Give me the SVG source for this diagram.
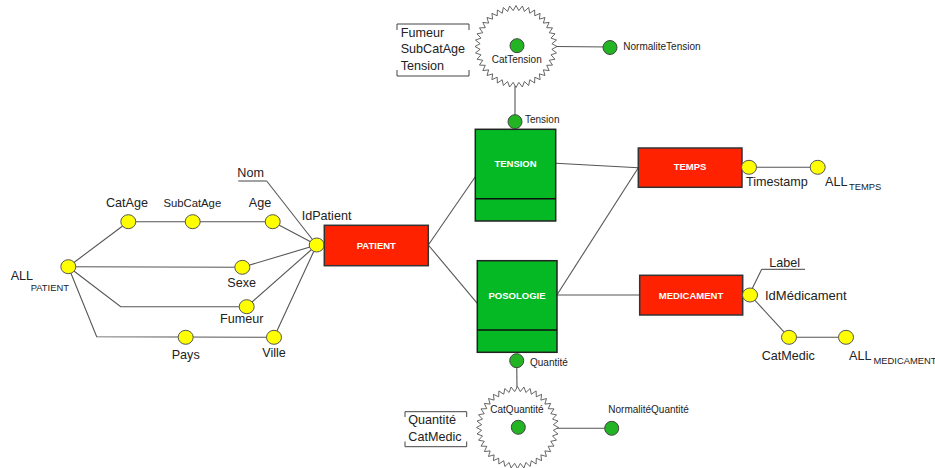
<svg xmlns="http://www.w3.org/2000/svg" xmlns:xlink="http://www.w3.org/1999/xlink" width="935" height="468" viewBox="0 0 935 468">
<style>
text{font-family:"Liberation Sans",Arial,sans-serif;fill:#222}
.l{font-size:12.6px}
.s{font-size:10px}
.sub{font-size:9.4px}
.b{font-size:9.5px;font-weight:bold;fill:#fff;text-anchor:middle}
.m{text-anchor:middle}
.y{fill:#ffff00;stroke:#555;stroke-width:1}
.g{fill:#22b422;stroke:#444;stroke-width:1}
.red{fill:#ff2200;stroke:#333;stroke-width:1.5}
.grn{fill:#05b925;stroke:#222;stroke-width:1.5}
.c line,.c polyline{stroke:#555;stroke-width:1.1;fill:none}
.br{stroke:#444;stroke-width:1;fill:none}
.gear{fill:#fff;stroke:#555;stroke-width:0.9}
</style>
<defs>
<polygon id="gearShape" class="gear" points="41,0 35.89,2.82 40.5,6.41 35.01,8.4 38.99,12.67 33.26,13.78 36.53,18.61 30.7,18.81 33.17,24.1 27.37,23.38 28.99,28.99 23.38,27.37 24.1,33.17 18.81,30.7 18.61,36.53 13.78,33.26 12.67,38.99 8.4,35.01 6.41,40.5 2.82,35.89 0,41 -2.82,35.89 -6.41,40.5 -8.4,35.01 -12.67,38.99 -13.78,33.26 -18.61,36.53 -18.81,30.7 -24.1,33.17 -23.38,27.37 -28.99,28.99 -27.37,23.38 -33.17,24.1 -30.7,18.81 -36.53,18.61 -33.26,13.78 -38.99,12.67 -35.01,8.4 -40.5,6.41 -35.89,2.82 -41,0 -35.89,-2.82 -40.5,-6.41 -35.01,-8.4 -38.99,-12.67 -33.26,-13.78 -36.53,-18.61 -30.7,-18.81 -33.17,-24.1 -27.37,-23.38 -28.99,-28.99 -23.38,-27.37 -24.1,-33.17 -18.81,-30.7 -18.61,-36.53 -13.78,-33.26 -12.67,-38.99 -8.4,-35.01 -6.41,-40.5 -2.82,-35.89 0,-41 2.82,-35.89 6.41,-40.5 8.4,-35.01 12.67,-38.99 13.78,-33.26 18.61,-36.53 18.81,-30.7 24.1,-33.17 23.38,-27.37 28.99,-28.99 27.37,-23.38 33.17,-24.1 30.7,-18.81 36.53,-18.61 33.26,-13.78 38.99,-12.67 35.01,-8.4 40.5,-6.41 35.89,-2.82"/>
</defs>
<rect width="935" height="468" fill="#fff"/>

<g id="connectors" class="c">
<line x1="68.3" y1="266.7" x2="128.3" y2="221.7"/>
<line x1="128.3" y1="221.7" x2="272.7" y2="221.7"/>
<line x1="272.7" y1="221.7" x2="316.7" y2="245"/>
<line x1="68.3" y1="266.7" x2="242.3" y2="267.3"/>
<line x1="242.3" y1="267.3" x2="316.7" y2="245"/>
<polyline points="68.3,266.7 120.7,306.7 246.7,306.7"/>
<line x1="246.7" y1="306.7" x2="316.7" y2="245"/>
<polyline points="68.3,266.7 96.7,336.7 274,337.3"/>
<line x1="274" y1="337.3" x2="316.7" y2="245"/>
<line x1="266.7" y1="181" x2="316.7" y2="245"/>
<line x1="428.3" y1="245" x2="475.3" y2="176.7"/>
<line x1="428.3" y1="245" x2="477.3" y2="303.3"/>
<line x1="555.7" y1="163.3" x2="638.3" y2="167.7"/>
<line x1="557.5" y1="294" x2="638.3" y2="167.7"/>
<line x1="557" y1="295" x2="639.7" y2="295"/>
<line x1="749" y1="167.3" x2="817.7" y2="167.3"/>
<line x1="752" y1="289" x2="761.7" y2="269.3"/>
<line x1="750" y1="295" x2="789" y2="337.3"/>
<line x1="789" y1="337.3" x2="846" y2="337.3"/>
<line x1="515" y1="86" x2="515" y2="115"/>
<line x1="555" y1="46.5" x2="610" y2="47"/>
<line x1="516.7" y1="360.7" x2="517" y2="389"/>
<line x1="557" y1="428.3" x2="611.7" y2="428.3"/>
</g>

<g id="ALL_PATIENT"><ellipse class="y" cx="68.3" cy="266.7" rx="7.5" ry="7"/><text class="l" x="10.7" y="280">ALL</text><text class="sub" x="30.7" y="290.7">PATIENT</text></g>
<g id="CatAge"><ellipse class="y" cx="128.3" cy="221.7" rx="7.5" ry="7"/><text class="l m" x="127" y="206.7">CatAge</text></g>
<g id="SubCatAge"><ellipse class="y" cx="192.7" cy="221.7" rx="7.5" ry="7"/><text class="m" style="font-size:11.3px" x="192.3" y="207.3">SubCatAge</text></g>
<g id="Age"><ellipse class="y" cx="272.7" cy="221.7" rx="7.5" ry="7"/><text class="l m" x="260" y="206.7">Age</text></g>
<g id="Nom"><text class="l" x="237.3" y="177.3">Nom</text><line class="br" x1="238.3" y1="181" x2="266.7" y2="181"/></g>
<g id="IdPatient"><ellipse class="y" cx="316.7" cy="245" rx="7.5" ry="7"/><text class="l" x="301.7" y="220">IdPatient</text></g>
<g id="Sexe"><ellipse class="y" cx="242.3" cy="267.3" rx="7.5" ry="7"/><text class="l m" x="241.7" y="286.7">Sexe</text></g>
<g id="Fumeur"><ellipse class="y" cx="246.7" cy="306.7" rx="7.5" ry="7"/><text class="l m" x="241.7" y="322.7">Fumeur</text></g>
<g id="Pays"><ellipse class="y" cx="185.7" cy="337.3" rx="7.5" ry="7"/><text class="l m" x="185.7" y="359.3">Pays</text></g>
<g id="Ville"><ellipse class="y" cx="274" cy="337.3" rx="7.5" ry="7"/><text class="l m" x="274" y="357.3">Ville</text></g>

<g id="PATIENT"><rect class="red" x="324.3" y="225.3" width="104" height="40.4"/><text class="b" x="376.3" y="248.5">PATIENT</text></g>
<g id="TENSION"><rect class="grn" x="475.3" y="129.3" width="80.4" height="91.7"/><line x1="475.3" y1="198.7" x2="555.7" y2="198.7" stroke="#111" stroke-width="1.5"/><text class="b" x="515.5" y="166.5">TENSION</text></g>
<g id="POSOLOGIE"><rect class="grn" x="477.3" y="260.7" width="79.7" height="91.6"/><line x1="477.3" y1="330" x2="557" y2="330" stroke="#111" stroke-width="1.5"/><text class="b" x="517" y="298.5">POSOLOGIE</text></g>
<g id="TEMPS"><rect class="red" x="638.3" y="148" width="103.7" height="39.3"/><text class="b" x="690" y="170">TEMPS</text></g>
<g id="MEDICAMENT"><rect class="red" x="639.7" y="275.3" width="103" height="39.7"/><text class="b" x="691" y="298.5">MEDICAMENT</text></g>

<g id="Timestamp"><ellipse class="y" cx="749" cy="167.3" rx="7.5" ry="7"/><text class="l" x="746" y="185.7">Timestamp</text></g>
<g id="ALL_TEMPS"><ellipse class="y" cx="817.7" cy="167.3" rx="7.5" ry="7"/><text class="l" x="825" y="185.5">ALL</text><text class="sub" x="849" y="189.5">TEMPS</text></g>
<g id="Label"><text class="l" x="769.3" y="266.7">Label</text><line class="br" x1="761.7" y1="269.3" x2="805" y2="269.3"/></g>
<g id="IdMedicament"><ellipse class="y" cx="750" cy="295" rx="7.5" ry="7"/><text class="l" style="font-size:13px" x="765" y="299.5">IdMédicament</text></g>
<g id="CatMedic"><ellipse class="y" cx="789" cy="337.3" rx="7.5" ry="7"/><text class="l" x="761.7" y="360">CatMedic</text></g>
<g id="ALL_MEDICAMENT"><ellipse class="y" cx="846" cy="337.3" rx="7.5" ry="7"/><text class="l" x="849" y="360">ALL</text><text class="sub" x="873.5" y="364">MEDICAMENT</text></g>

<g id="Tension"><circle class="g" cx="515" cy="121.7" r="7"/><text class="s" x="525" y="122.5">Tension</text></g>
<g id="CatTension"><use xlink:href="#gearShape" href="#gearShape" transform="translate(516,46.5)"/><circle class="g" cx="517" cy="45.7" r="7"/><text class="s m" x="516.7" y="63.3">CatTension</text></g>
<g id="NormaliteTension"><circle class="g" cx="610" cy="47.5" r="7"/><text class="s" x="623.3" y="50">NormaliteTension</text></g>
<g id="BracketTension"><path class="br" d="M397,30 V24 H469 V30 M397,70 V76 H469 V70"/><text class="l" x="400.7" y="36.7">Fumeur</text><text class="l" x="400.7" y="53.3">SubCatAge</text><text class="l" x="400.7" y="70">Tension</text></g>

<g id="Quantite"><circle class="g" cx="516.7" cy="360.7" r="7"/><text class="s" x="530" y="365.5">Quantité</text></g>
<g id="CatQuantite"><use xlink:href="#gearShape" href="#gearShape" transform="translate(517.5,427.5)"/><circle class="g" cx="518.3" cy="427.3" r="7"/><text class="s m" x="517" y="413.3">CatQuantité</text></g>
<g id="NormaliteQuantite"><circle class="g" cx="611.7" cy="428.3" r="7"/><text class="s" x="608.3" y="413">NormalitéQuantité</text></g>
<g id="BracketQuantite"><path class="br" d="M405,417 V411.7 H466.7 V417 M405,441.5 V446.7 H466.7 V441.5"/><text class="l" x="408.3" y="424">Quantité</text><text class="l" x="408.3" y="440.7">CatMedic</text></g>
</svg>
